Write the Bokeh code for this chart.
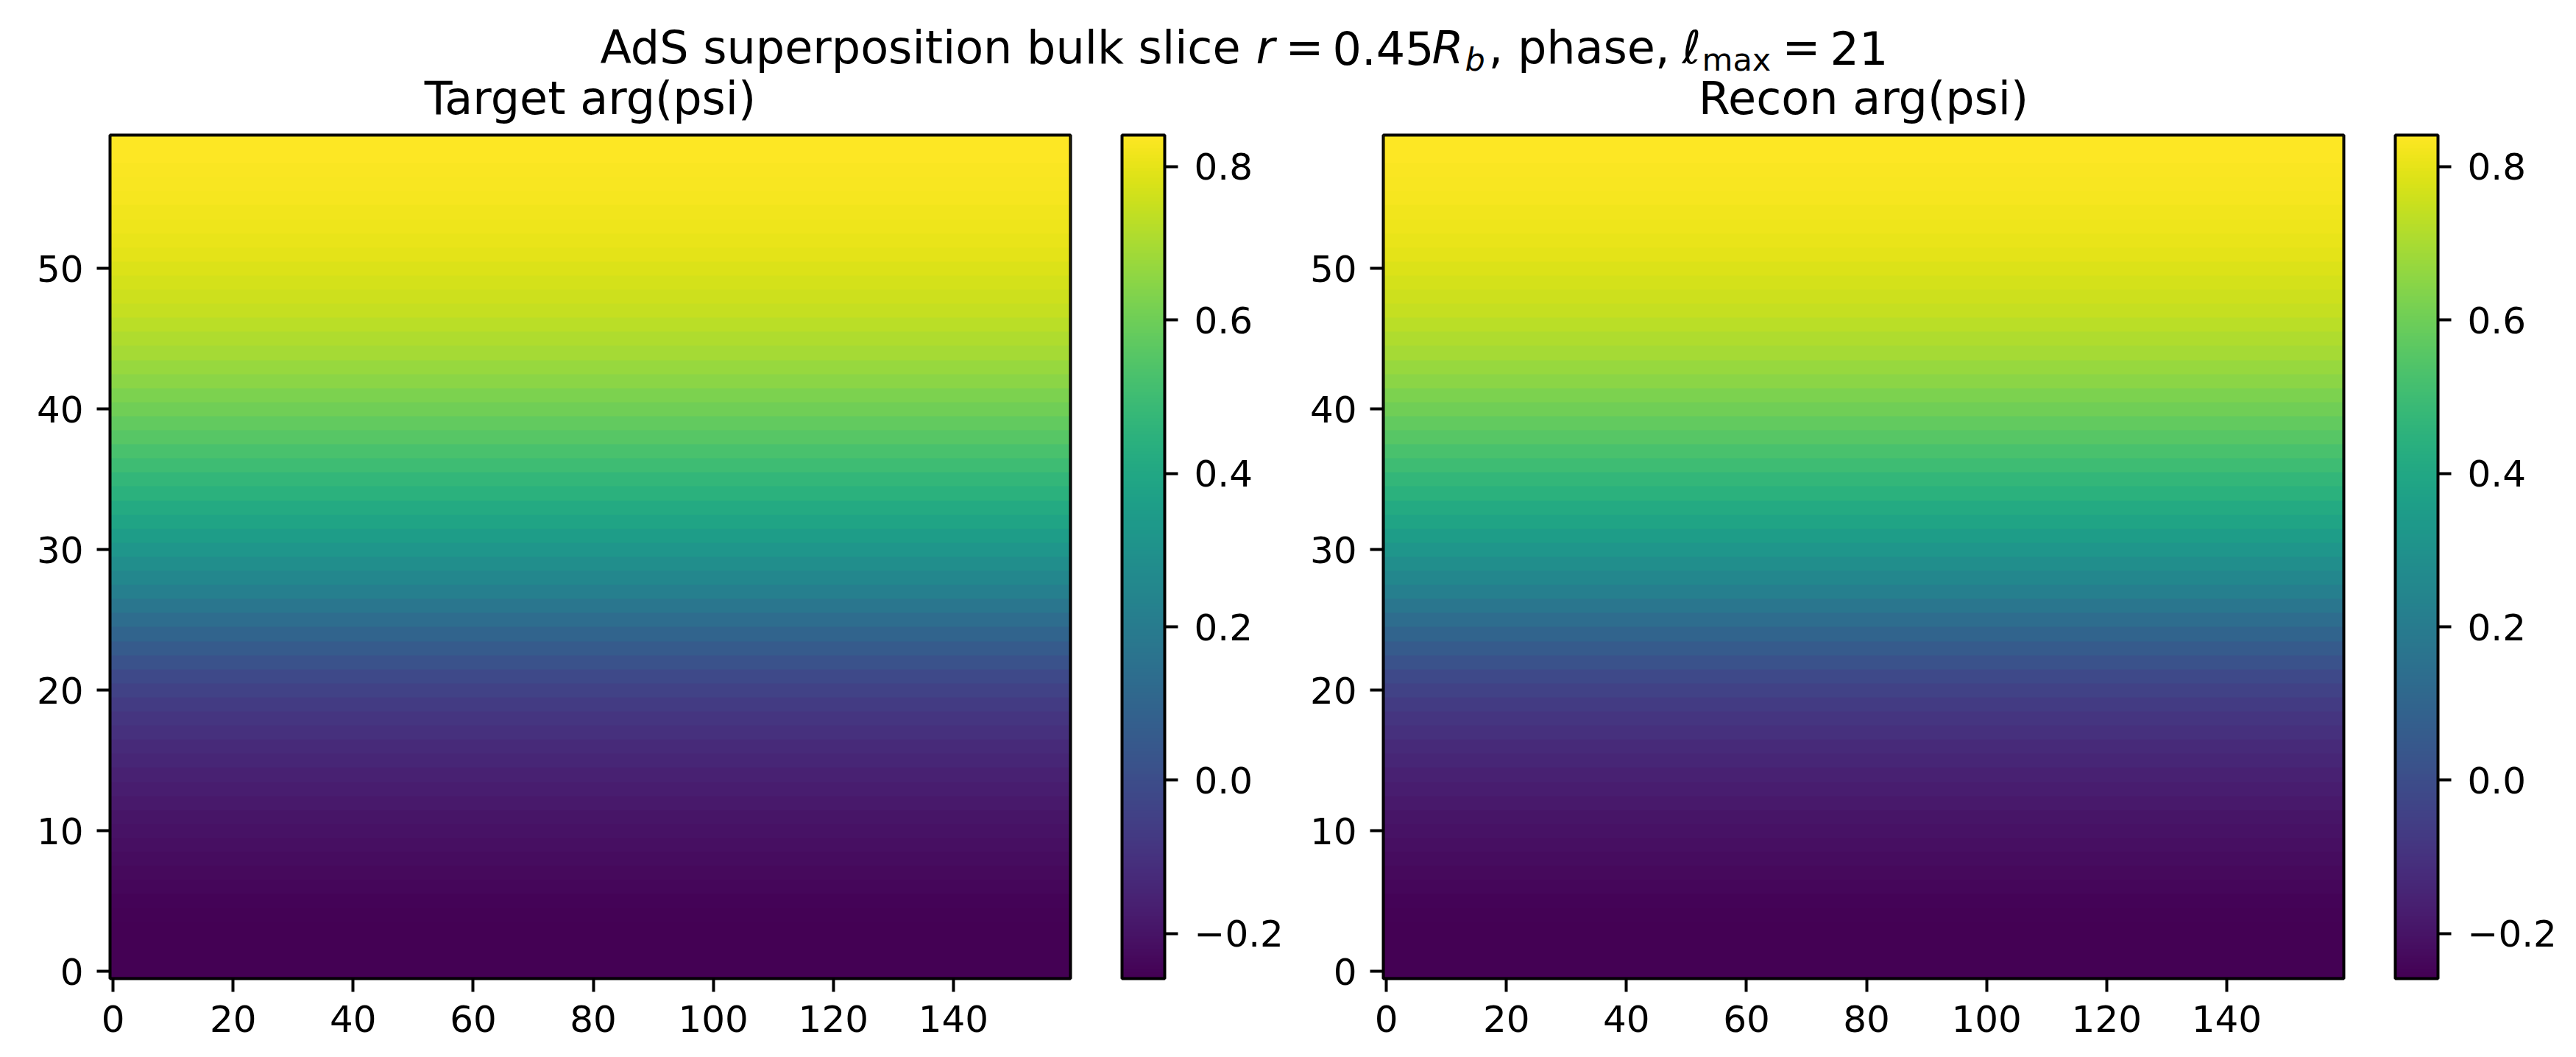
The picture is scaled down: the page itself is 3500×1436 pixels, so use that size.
from bokeh.embed import file_html
from bokeh.layouts import column, row
from bokeh.models import BoxAnnotation, ColorBar, FixedTicker, Label, LinearColorMapper
from bokeh.palettes import Viridis256
from bokeh.plotting import figure
from bokeh.resources import INLINE
import numpy as np

# phase per row of the slice, bottom row first (every column looks the same)
target_phase = [
    -0.256, -0.258, -0.258, -0.256, -0.252, -0.246, -0.240, -0.232, -0.224, -0.215,
    -0.206, -0.196, -0.184, -0.170, -0.156, -0.142, -0.126, -0.108, -0.088, -0.066,
    -0.042, -0.016, 0.020, 0.055, 0.095, 0.135, 0.175, 0.215, 0.250, 0.285,
    0.320, 0.352, 0.384, 0.414, 0.442, 0.470, 0.498, 0.526, 0.554, 0.578,
    0.602, 0.626, 0.650, 0.672, 0.692, 0.711, 0.728, 0.744, 0.758, 0.771,
    0.783, 0.794, 0.803, 0.811, 0.818, 0.824, 0.829, 0.834, 0.838, 0.841,
]
recon_phase = list(target_phase)

n_cols = 160
phase_low = -0.2586
phase_high = 0.841
x_ticks = [0, 20, 40, 60, 80, 100, 120, 140]
y_ticks = [0, 10, 20, 30, 40, 50]
cbar_ticks = [-0.2, 0.0, 0.2, 0.4, 0.6, 0.8]
cbar_labels = ["\u22120.2", "0.0", "0.2", "0.4", "0.6", "0.8"]

FONT = "DejaVu Sans"

# suptitle broken up because of the math parts: text, x, baseline, size, style
sup_text = ["AdS superposition bulk slice ", "r", "=", "0.45", "R", "b", ", phase, ", "\u2113", "max", "=", "21"]
sup_x = [815, 1706, 1746, 1810, 1945, 1990, 2022, 2285, 2312, 2421, 2486]
sup_y = [64, 64, 64, 64, 64, 80, 64, 64, 80, 64, 64]
sup_size = [62, 62, 62, 62, 62, 43, 62, 62, 43, 62, 62]
sup_style = ["normal", "italic", "normal", "normal", "italic", "italic", "normal", "normal", "normal", "normal", "normal"]


def make_panel(title, phase, left_border, right_border):
    mapper = LinearColorMapper(palette=Viridis256, low=phase_low, high=phase_high)
    width = left_border + 1305 + right_border
    p = figure(width=width, height=1358, x_range=(-0.5, 159.5), y_range=(-0.5, 59.5),
               output_backend="svg", toolbar_location=None,
               min_border_left=left_border, min_border_right=right_border,
               min_border_top=105, min_border_bottom=107)
    p.border_fill_color = None  # suptitle descenders show through from the figure behind
    img = np.tile(np.array(phase)[:, None], (1, n_cols))
    p.image(image=[img], x=-0.5, y=-0.5, dw=n_cols, dh=len(phase), color_mapper=mapper)

    p.title.text = title
    p.title.align = "center"
    p.title.text_font = FONT
    p.title.text_font_size = "62px"
    p.title.text_font_style = "normal"
    p.title.text_color = "black"
    p.title.standoff = 27

    p.grid.visible = False
    # the image covers the inner half of the outline, the box redraws that half
    p.outline_line_color = "black"
    p.outline_line_width = 4
    p.outline_line_alpha = 1
    p.add_layout(BoxAnnotation(left=-0.5, right=159.5, bottom=-0.5, top=59.5,
                               fill_color=None, line_color="black", line_alpha=1, line_width=4))

    p.xaxis.ticker = FixedTicker(ticks=x_ticks)
    p.yaxis.ticker = FixedTicker(ticks=y_ticks)
    for ax in [p.xaxis[0], p.yaxis[0]]:
        ax.axis_line_color = None
        ax.major_tick_line_color = "black"
        ax.major_tick_line_width = 4
        ax.major_tick_in = 0
        ax.major_tick_out = 18
        ax.minor_tick_line_color = None
        ax.major_label_text_font = FONT
        ax.major_label_text_font_size = "50px"
        ax.major_label_text_color = "black"
        ax.major_label_standoff = 18
    p.yaxis[0].major_label_orientation = "horizontal"

    # placed by hand next to the frame, 70px gap
    cb = ColorBar(color_mapper=mapper, ticker=FixedTicker(ticks=cbar_ticks),
                  major_label_overrides=dict(zip(cbar_ticks, cbar_labels)),
                  location=(1375, 0), width=58, height=1146, padding=0, label_standoff=22,
                  major_tick_in=0, major_tick_out=18,
                  major_tick_line_color="black", major_tick_line_width=4,
                  minor_tick_line_color=None,
                  bar_line_color="black", bar_line_width=4,
                  border_line_color=None, background_fill_color=None,
                  major_label_text_font=FONT, major_label_text_font_size="50px",
                  major_label_text_color="black")
    p.add_layout(cb)
    return p


top = figure(width=3500, height=120, x_range=(0, 3500), y_range=(120, 0),
             x_axis_type=None, y_axis_type=None,
             output_backend="svg", toolbar_location=None,
             min_border_left=0, min_border_right=0, min_border_top=0, min_border_bottom=0)
top.grid.visible = False
top.outline_line_color = None
for t, x, y, s, st in zip(sup_text, sup_x, sup_y, sup_size, sup_style):
    top.add_layout(Label(x=x, y=y, text=t, text_font=FONT, text_font_size=f"{s}px",
                         text_font_style=st, text_color="black", text_baseline="alphabetic"))

p1 = make_panel("Target arg(psi)", target_phase, 149, 301)
p2 = make_panel("Recon arg(psi)", recon_phase, 124, 316)

# the panels slide up under the suptitle figure's bottom edge
panels = row(p1, p2, margin=(-42, 0, 0, 0))
page = column(top, panels)
open("out.html", "w").write(file_html(page, INLINE))
